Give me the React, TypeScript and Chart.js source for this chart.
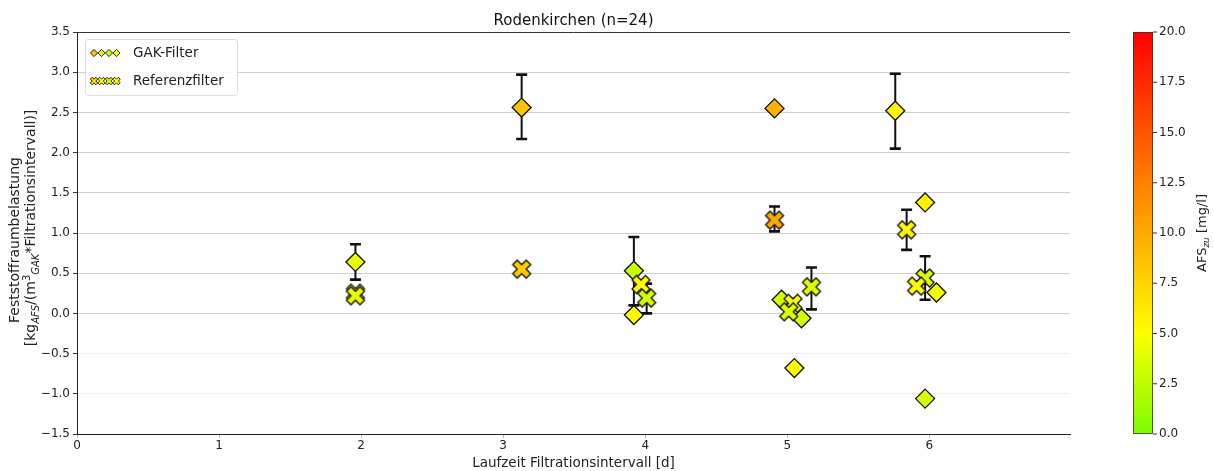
import React, { useEffect, useRef } from 'react';
import { Chart, registerables } from 'chart.js';

Chart.register(...registerables);

const FONT = '"DejaVu Sans", sans-serif';

// ---- data ----
const gakX = [1.96, 3.13, 3.92, 3.92, 4.91, 4.96, 5.10, 5.05, 5.76, 5.97, 6.05, 5.97];
const gakY = [0.64, 2.56, 0.53, -0.02, 2.55, 0.17, -0.06, -0.68, 2.52, 1.38, 0.26, -1.06];
const gakLo = [0.42, 2.17, 0.10, null, null, null, null, null, 2.05, null, null, null];
const gakHi = [0.86, 2.97, 0.95, null, null, null, null, null, 2.98, null, null, null];
const gakAfs = [4.0, 8.5, 3.0, 5.2, 9.5, 3.3, 3.4, 5.3, 5.6, 5.8, 4.6, 3.6];

const refX = [1.96, 1.96, 3.13, 3.97, 4.01, 4.91, 5.04, 5.01, 5.17, 5.84, 5.97, 5.91];
const refY = [0.25, 0.22, 0.55, 0.36, 0.19, 1.16, 0.125, 0.02, 0.33, 1.04, 0.44, 0.34];
const refLo = [null, null, null, null, 0.0, 1.02, 0.08, null, 0.05, 0.79, 0.17, null];
const refHi = [null, null, null, null, 0.37, 1.33, 0.18, null, 0.57, 1.29, 0.71, null];
const refAfs = [4.5, 4.3, 8.0, 5.3, 3.4, 10.0, 5.0, 3.8, 3.7, 5.6, 3.5, 5.0];

const cbTicks = [0, 2.5, 5, 7.5, 10, 12.5, 15, 17.5, 20];
const legendLabels = ['GAK-Filter', 'Referenzfilter'];
const titleText = 'Rodenkirchen (n=24)';
const xTitle = 'Laufzeit Filtrationsintervall [d]';

function afsRGB(v: number): [number, number, number] {
  const t = Math.max(0, Math.min(20, v));
  if (t <= 5) {
    const f = t / 5;
    return [Math.round(124 + (255 - 124) * f), Math.round(252 + 3 * f), 0];
  }
  const f = (t - 5) / 15;
  return [255, Math.round(255 * (1 - f)), 0];
}
function afsColor(v: number) {
  const [r, g, b] = afsRGB(v);
  return `rgb(${r},${g},${b})`;
}

const XV = [
  [-0.25, 0.5], [0, 0.25], [0.25, 0.5], [0.5, 0.25], [0.25, 0], [0.5, -0.25],
  [0.25, -0.5], [0, -0.25], [-0.25, -0.5], [-0.5, -0.25], [-0.25, 0], [-0.5, 0.25],
];
function xPath(ctx: CanvasRenderingContext2D, cx: number, cy: number, s: number) {
  ctx.beginPath();
  XV.forEach(([a, b], i) => {
    const px = cx + a * s, py = cy - b * s;
    if (i === 0) ctx.moveTo(px, py); else ctx.lineTo(px, py);
  });
  ctx.closePath();
}
function crossImage(color: string, s = 18) {
  const size = Math.ceil(s + 4);
  const c = document.createElement('canvas');
  c.width = size; c.height = size;
  const ctx = c.getContext('2d')!;
  xPath(ctx, size / 2, size / 2, s);
  ctx.fillStyle = color;
  ctx.fill();
  ctx.lineWidth = 1.3;
  ctx.strokeStyle = '#111';
  ctx.lineJoin = 'miter';
  ctx.stroke();
  return c;
}

function drawRich(ctx: CanvasRenderingContext2D, parts: { t: string; sub?: boolean; sup?: boolean }[], size: number) {
  const normal = `${size}px ${FONT}`;
  const small = `italic ${Math.round(size * 0.72)}px ${FONT}`;
  const smallUp = `${Math.round(size * 0.72)}px ${FONT}`;
  let total = 0;
  const widths = parts.map((p) => {
    ctx.font = p.sub ? small : p.sup ? smallUp : normal;
    const w = ctx.measureText(p.t).width;
    total += w;
    return w;
  });
  let x = -total / 2;
  parts.forEach((p, i) => {
    ctx.font = p.sub ? small : p.sup ? smallUp : normal;
    const dy = p.sub ? size * 0.28 : p.sup ? -size * 0.38 : 0;
    ctx.fillText(p.t, x, dy);
    x += widths[i];
  });
}

const deco = {
  id: 'deco',
  beforeDatasetsDraw(chart: any) {
    const { ctx, scales } = chart;
    const xs = scales.x, ys = scales.y;
    ctx.save();
    ctx.strokeStyle = '#111';
    const drawErr = (X: number[], lo: (number | null)[], hi: (number | null)[]) => {
      X.forEach((xv, i) => {
        const l = lo[i], h = hi[i];
        if (l == null || h == null) return;
        const px = xs.getPixelForValue(xv);
        const p1 = ys.getPixelForValue(l), p2 = ys.getPixelForValue(h);
        ctx.lineWidth = 2;
        ctx.beginPath(); ctx.moveTo(px, p1); ctx.lineTo(px, p2); ctx.stroke();
        ctx.lineWidth = 2.6;
        ctx.beginPath();
        ctx.moveTo(px - 5.5, p1); ctx.lineTo(px + 5.5, p1);
        ctx.moveTo(px - 5.5, p2); ctx.lineTo(px + 5.5, p2);
        ctx.stroke();
      });
    };
    drawErr(gakX, gakLo, gakHi);
    drawErr(refX, refLo, refHi);
    ctx.restore();
  },
  afterDraw(chart: any) {
    const { ctx, chartArea: ca } = chart;
    ctx.save();
    // top spine
    ctx.strokeStyle = '#333';
    ctx.lineWidth = 1;
    ctx.beginPath(); ctx.moveTo(ca.left, ca.top + 0.5); ctx.lineTo(ca.right, ca.top + 0.5); ctx.stroke();

    // title
    ctx.fillStyle = '#111';
    ctx.font = `15px ${FONT}`;
    ctx.textAlign = 'center';
    ctx.textBaseline = 'alphabetic';
    ctx.fillText(titleText, (ca.left + ca.right) / 2, 25);

    // x title
    ctx.font = `13.5px ${FONT}`;
    ctx.fillStyle = '#222';
    ctx.fillText(xTitle, (ca.left + ca.right) / 2, 467);

    // y title
    ctx.save();
    ctx.translate(19, 240);
    ctx.rotate(-Math.PI / 2);
    ctx.textAlign = 'left';
    drawRich(ctx, [{ t: 'Feststoffraumbelastung' }], 14);
    ctx.restore();
    ctx.save();
    ctx.translate(35, 228);
    ctx.rotate(-Math.PI / 2);
    ctx.textAlign = 'left';
    drawRich(ctx, [
      { t: '[kg' }, { t: 'AFS', sub: true }, { t: '/(m' }, { t: '3', sup: true },
      { t: 'GAK', sub: true }, { t: '*Filtrationsintervall)]' },
    ], 14);
    ctx.restore();

    // legend
    const lx = 85, ly = 39, lw = 152, lh = 56;
    ctx.fillStyle = 'rgba(255,255,255,0.85)';
    ctx.strokeStyle = '#dcdcdc';
    ctx.lineWidth = 1;
    ctx.beginPath();
    (ctx as any).roundRect(lx + 0.5, ly + 0.5, lw, lh, 3);
    ctx.fill(); ctx.stroke();
    const legCols = [afsColor(8.5), afsColor(6), afsColor(3), afsColor(4.5)];
    const mx = [94, 101.5, 109, 116.5];
    legCols.forEach((c, i) => {
      const cx = mx[i], cy = 53;
      ctx.beginPath();
      ctx.moveTo(cx - 3.6, cy); ctx.lineTo(cx, cy - 3.6); ctx.lineTo(cx + 3.6, cy); ctx.lineTo(cx, cy + 3.6); ctx.closePath();
      ctx.fillStyle = c; ctx.fill();
      ctx.strokeStyle = '#111'; ctx.lineWidth = 0.9; ctx.stroke();
    });
    const legCols2 = [afsColor(7.5), afsColor(4.5), afsColor(3.5), afsColor(5.5)];
    legCols2.forEach((c, i) => {
      xPath(ctx, mx[i], 81, 7.5);
      ctx.fillStyle = c; ctx.fill();
      ctx.strokeStyle = '#111'; ctx.lineWidth = 0.9; ctx.stroke();
    });
    ctx.fillStyle = '#222';
    ctx.font = `13.5px ${FONT}`;
    ctx.textAlign = 'left';
    ctx.textBaseline = 'middle';
    ctx.fillText(legendLabels[0], 133, 53);
    ctx.fillText(legendLabels[1], 133, 81);

    // colorbar
    const cbL = 1133, cbR = 1153, cbT = ca.top, cbB = ca.bottom;
    for (let py = cbT; py < cbB; py++) {
      const v = ((cbB - (py + 0.5)) / (cbB - cbT)) * 20;
      ctx.fillStyle = afsColor(v);
      ctx.fillRect(cbL, py, cbR - cbL, 1);
    }
    ctx.strokeStyle = '#333';
    ctx.lineWidth = 0.8;
    ctx.strokeRect(cbL + 0.5, cbT + 0.5, cbR - cbL - 1, cbB - cbT - 1);
    ctx.font = `12px ${FONT}`;
    ctx.fillStyle = '#222';
    ctx.textAlign = 'left';
    ctx.textBaseline = 'middle';
    cbTicks.forEach((t) => {
      const py = cbB - (t / 20) * (cbB - cbT);
      ctx.beginPath(); ctx.moveTo(cbR, py); ctx.lineTo(cbR + 4, py); ctx.strokeStyle = '#333'; ctx.lineWidth = 1; ctx.stroke();
      ctx.fillText(t.toFixed(1), cbR + 6, py);
    });
    ctx.save();
    ctx.translate(1203, (cbT + cbB) / 2);
    ctx.rotate(-Math.PI / 2);
    ctx.textBaseline = 'middle';
    ctx.fillStyle = '#222';
    drawRich(ctx, [{ t: 'AFS' }, { t: 'zu', sub: true }, { t: ' [mg/l]' }], 13);
    ctx.restore();

    ctx.restore();
  },
};

export default function App() {
  const ref = useRef<HTMLCanvasElement | null>(null);
  useEffect(() => {
    document.body.style.margin = '0';
    const canvas = ref.current!;
    const chart = new Chart(canvas, {
      type: 'scatter',
      data: {
        datasets: [
          {
            label: legendLabels[1],
            data: refX.map((x, i) => ({ x, y: refY[i] })),
            pointStyle: refAfs.map((v) => crossImage(afsColor(v))) as any,
            order: 0,
          },
          {
            label: legendLabels[0],
            data: gakX.map((x, i) => ({ x, y: gakY[i] })),
            pointStyle: 'rectRot',
            pointRadius: 9.5,
            backgroundColor: gakAfs.map(afsColor),
            borderColor: '#111',
            borderWidth: 1.3,
            order: 1,
          },
        ],
      },
      options: {
        animation: false,
        responsive: false,
        events: [],
        layout: { padding: { left: 0, top: 32, right: 1214 - 1070, bottom: 0 } },
        plugins: { legend: { display: false }, tooltip: { enabled: false }, title: { display: false } },
        scales: {
          x: {
            type: 'linear',
            min: 0,
            max: 6.99,
            afterBuildTicks: (s: any) => {
              s.ticks = [0, 1, 2, 3, 4, 5, 6].map((v) => ({ value: v }));
            },
            afterFit: (s: any) => { s.height = 471 - 434; },
            ticks: { stepSize: 1, font: { family: FONT, size: 12 }, color: '#222', padding: 1, maxRotation: 0 },
            grid: { drawOnChartArea: false, drawTicks: true, tickLength: 4, color: '#bbb' },
            border: { display: true, color: '#222', width: 1 },
          },
          y: {
            type: 'linear',
            min: -1.5,
            max: 3.5,
            afterFit: (s: any) => { s.width = 77; },
            ticks: {
              stepSize: 0.5,
              font: { family: FONT, size: 12 },
              color: '#222',
              padding: 3,
              callback: (v: any) => Number(v).toFixed(1).replace('-', '\u2212'),
            },
            grid: {
              color: (c: any) => {
                const v = c.tick ? c.tick.value : 0;
                if (v >= 3.5 || v <= -1.5) return 'rgba(0,0,0,0)';
                return v < 0 ? '#eeeeee' : '#cfcfcf';
              },
              tickColor: '#333',
              tickLength: 4,
              lineWidth: 1,
            },
            border: { display: true, color: '#222', width: 1 },
          },
        },
      },
      plugins: [deco],
    });
    return () => chart.destroy();
  }, []);
  return (
    <div style={{ width: 1214, height: 471, background: '#fff' }}>
      <canvas ref={ref} width={1214} height={471} style={{ display: 'block' }} />
    </div>
  );
}
